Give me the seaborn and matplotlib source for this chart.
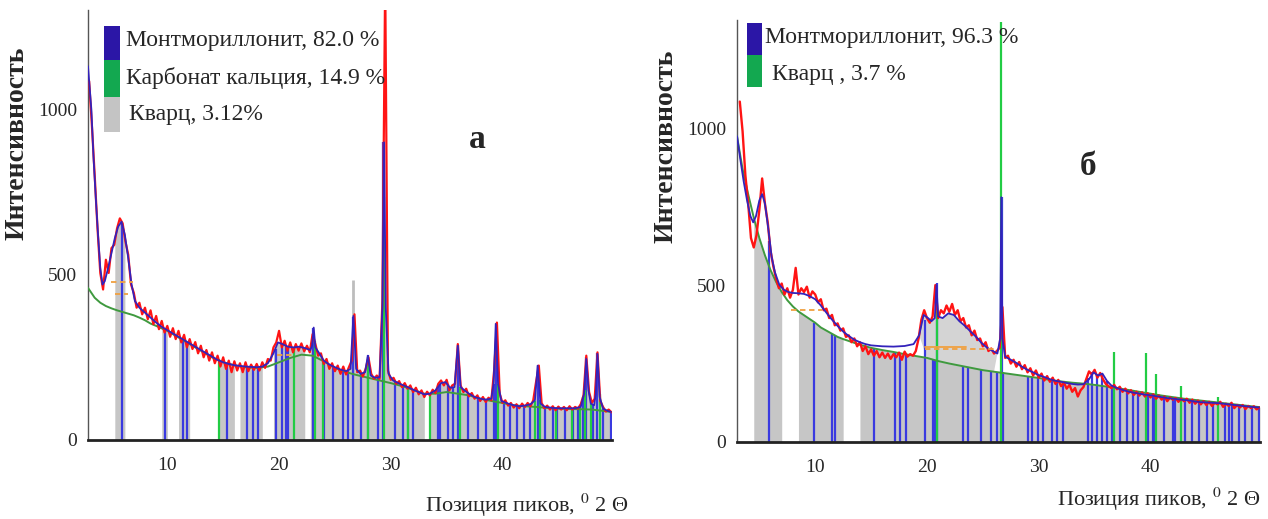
import numpy as np
import matplotlib
matplotlib.use("Agg")
import matplotlib.pyplot as plt
import seaborn as sns
from matplotlib.patches import Rectangle
from matplotlib.ticker import FixedLocator, MultipleLocator

# ---------------- Panel a data ----------------
# measured (red) pattern, 0.25 deg steps from 3.00 to 49.75
red_a = [
    1085, 950, 800, 640,   # 3
    505, 455, 545, 505,    # 4
    580, 590, 640, 670,    # 5
    655, 600, 560, 470,    # 6
    445, 400, 415, 380,    # 7
    400, 365, 392, 350,    # 8
    375, 335, 360, 325,    # 9
    345, 312, 338, 305,    # 10
    330, 295, 318, 280,    # 11
    305, 275, 296, 262,    # 12
    285, 250, 272, 240,    # 13
    265, 232, 255, 222,    # 14
    250, 215, 240, 205,    # 15
    238, 210, 232, 205,    # 16
    235, 208, 228, 212,    # 17
    230, 210, 235, 218,    # 18
    245, 240, 280, 295,    # 19
    330, 280, 300, 270,    # 20
    295, 265, 290, 270,    # 21
    292, 268, 285, 265,    # 22
    320, 290, 255, 262,    # 23
    230, 245, 215, 232,    # 24
    208, 225, 200, 222,    # 25
    198, 220, 240, 380,    # 26
    205, 210, 192, 215,    # 27
    250, 200, 185, 195,    # 28
    185, 420, 1400, 210,   # 29
    182, 188, 170, 178,    # 30
    160, 172, 155, 165,    # 31
    145, 158, 138, 150,    # 32
    130, 146, 135, 152,    # 33
    142, 170, 180, 165,    # 34
    182, 150, 165, 170,    # 35
    290, 165, 145, 155,    # 36
    132, 142, 125, 135,    # 37
    118, 130, 115, 128,    # 38
    120, 210, 355, 140,    # 39
    112, 120, 104, 112,    # 40
    98, 108, 96, 110,      # 41
    100, 112, 102, 120,    # 42
    175, 225, 112, 96,     # 43
    104, 92, 102, 90,      # 44
    101, 92, 100, 90,      # 45
    102, 92, 100, 95,      # 46
    108, 135, 255, 145,    # 47
    112, 125, 265, 118,    # 48
    100, 86, 92, 84,       # 49
]
red_a_x = np.arange(len(red_a)) * 0.25 + 3.0

# fitted profile (blue)
fit_a_x = [2.9, 3.2, 3.4, 3.6, 3.8, 4.0, 4.2, 4.4, 4.7, 5.0, 5.3, 5.6, 5.9, 6.2, 6.5,
           6.8, 7.1, 7.5, 8.0, 8.5, 9.0, 9.5, 10.0, 10.5, 11.0, 11.5, 12.0, 12.5,
           13.0, 13.5, 14.0, 14.5, 15.0, 15.5, 16.0, 16.5, 17.0, 17.5, 18.0, 18.5,
           19.0, 19.5, 19.9, 20.3, 20.8, 21.3, 21.8, 22.3, 22.8, 22.95, 23.1, 23.25,
           23.6, 24.0, 24.5, 25.0, 25.5, 26.0, 26.4, 26.65, 26.9, 27.3, 27.7, 27.95,
           28.2, 28.6, 29.0, 29.25, 29.4, 29.55, 29.8, 30.2, 30.8, 31.5, 32.0, 32.5,
           33.0, 33.5, 34.0, 34.5, 34.9, 35.3, 35.7, 36.0, 36.25, 36.6, 37.0, 37.5,
           38.0, 38.5, 39.0, 39.2, 39.4, 39.6, 39.9, 40.5, 41.0, 41.5, 42.0, 42.5,
           42.9, 43.15, 43.4, 43.8, 44.5, 45.0, 45.5, 46.0, 46.5, 47.0, 47.3, 47.5,
           47.7, 47.9, 48.2, 48.35, 48.5, 48.7, 49.0, 49.4, 49.7]
fit_a_y = [1130, 1000, 850, 730, 620, 520, 470, 480, 520, 565, 610, 645, 660, 620, 550,
           470, 420, 400, 385, 370, 355, 342, 332, 322, 312, 302, 292, 282,
           272, 262, 252, 242, 235, 230, 226, 224, 222, 221, 220, 222,
           232, 262, 295, 290, 282, 280, 282, 278, 272, 285, 340, 280,
           262, 240, 228, 220, 213, 208, 215, 375, 215, 200, 205, 255,
           195, 188, 190, 400, 900, 400, 200, 180, 170, 160, 152, 145,
           138, 140, 150, 172, 175, 158, 160, 285, 160, 150, 140, 130,
           125, 122, 125, 170, 350, 170, 118, 110, 105, 102, 104, 108,
           120, 225, 110, 100, 97, 96, 96, 96, 96, 100, 140, 245,
           150, 110, 105, 140, 260, 130, 95, 88, 85]

# background (green)
bg_a_x = [2.9, 3.5, 4.0, 4.5, 5.0, 5.5, 6.0, 6.5, 7.0, 7.5, 8.0, 8.5, 9.0, 10, 11, 12,
          13, 14, 15, 16, 17, 18, 19, 20, 21, 22, 23, 24, 25, 26, 27, 28, 29, 30, 31,
          32, 33, 34, 35, 36, 37, 38, 39, 40, 41, 42, 43, 44, 45, 46, 47, 48, 49, 49.7]
bg_a_y = [460, 430, 415, 405, 398, 392, 387, 382, 377, 370, 362, 352, 345, 330, 310, 290,
          270, 250, 235, 226, 220, 218, 222, 235, 248, 258, 255, 238, 218, 205, 196, 188,
          180, 172, 163, 152, 140, 140, 145, 140, 135, 125, 118, 112, 105, 102, 100, 97,
          95, 94, 93, 92, 88, 85]

# reference sticks
mont_a_pos = [5.9, 9.8, 11.4, 11.8, 15.3,
              17.1, 17.7, 18.1, 19.7, 20.3,
              20.6, 20.8, 23.05, 24.0, 24.8,
              25.7, 26.2, 26.65, 27.3, 27.95,
              28.9, 29.3, 30.4, 31.1, 31.5,
              32.0, 34.2, 34.4, 35.1, 35.6,
              36.0, 36.9, 37.8, 38.5, 39.2,
              39.45, 40.1, 40.7, 41.3, 41.9,
              42.5, 43.2, 43.8, 44.5, 44.9,
              45.6, 46.3, 46.8, 47.2, 47.5,
              48.1, 48.5, 49.0, 49.7]
mont_a_h = [655, 335, 303, 296, 231,
            222, 221, 220, 275, 290,
            286, 283, 340, 240, 224,
            211, 210, 372, 200, 257,
            190, 900, 178, 166, 160,
            152, 160, 168, 170, 160,
            287, 142, 127, 122, 170,
            353, 116, 108, 103, 104,
            108, 227, 100, 97, 96,
            96, 96, 98, 130, 250,
            106, 263, 95, 85]
calc_a_pos = [14.6, 21.3, 23.2, 23.9, 28.0, 29.4, 31.5, 33.5, 36.2,
              39.6, 42.9, 43.4, 44.8, 46.2, 46.9, 47.4, 47.9, 48.7]
calc_a_h = [245, 280, 300, 245, 250, 734, 160, 140, 160,
            170, 118, 120, 96, 96, 99, 150, 110, 140]
quartz_a_pos = [26.65]
quartz_a_h = [483]
quartz_a_bands = [(5.3, 6.2), (9.5, 10.0), (11.0, 12.0), (14.5, 16.0), (16.5, 18.5),
                  (19.5, 22.3), (22.8, 33.0), (33.5, 49.7)]
orange_a = [(5.0, 6.9, 478), (5.3, 6.5, 440), (19.8, 21.4, 258)]

# ---------------- Panel b data ----------------
red_b = [
    1085, 990, 850,        # 3.25 ..
    760, 650, 620, 660,    # 4
    740, 840, 760, 700,    # 5
    610, 560, 520, 490,    # 6
    505, 470, 490, 460,    # 7
    485, 555, 470, 490,    # 8
    478, 495, 460, 480,    # 9
    470, 445, 455, 420,    # 10
    425, 395, 405, 372,    # 11
    378, 355, 362, 335,    # 12
    340, 318, 330, 305,    # 13
    318, 290, 305, 280,    # 14
    295, 275, 290, 270,    # 15
    285, 268, 282, 265,    # 16
    280, 270, 285, 262,    # 17
    288, 272, 280, 275,    # 18
    290, 330, 390, 420,    # 19
    395, 380, 400, 500,    # 20
    395, 420, 410, 435,    # 21
    415, 440, 405, 420,    # 22
    385, 395, 365, 372,    # 23
    340, 355, 325, 330,    # 24
    305, 318, 290, 298,    # 25
    282, 290, 300, 430,    # 26
    268, 275, 250, 262,    # 27
    240, 255, 232, 245,    # 28
    222, 235, 212, 228,    # 29
    205, 218, 196, 210,    # 30
    192, 205, 185, 198,    # 31
    178, 190, 170, 182,    # 32
    160, 172, 145, 165,    # 33
    175, 200, 225, 215,    # 34
    230, 205, 220, 200,    # 35
    185, 178, 172, 182,    # 36
    168, 176, 160, 170,    # 37
    155, 165, 150, 160,    # 38
    148, 158, 145, 155,    # 39
    142, 152, 138, 148,    # 40
    135, 145, 130, 142,    # 41
    135, 140, 128, 138,    # 42
    130, 138, 125, 135,    # 43
    122, 132, 120, 130,    # 44
    118, 128, 115, 125,    # 45
    120, 128, 112, 122,    # 46
    115, 125, 108, 118,    # 47
    110, 118, 105, 115,    # 48
    108, 114, 104, 110,    # 49
]
red_b_x = np.arange(len(red_b)) * 0.25 + 3.25

fit_b_x = [3.0, 3.3, 3.6, 3.9, 4.2, 4.45, 4.7, 5.0, 5.25, 5.5, 5.8, 6.1, 6.4, 6.8, 7.2,
           7.6, 8.0, 8.5, 9.0, 9.5, 10.0, 10.5, 11.0, 11.5, 12.0, 12.5, 13.0, 13.5,
           14.0, 14.5, 15.0, 16.0, 17.0, 18.0, 18.8, 19.3, 19.7, 20.1, 20.4, 20.7,
           20.85, 21.0, 21.4, 21.9, 22.4, 22.9, 23.4, 23.9, 24.4, 24.9, 25.4, 25.9,
           26.3, 26.55, 26.65, 26.75, 27.0, 27.5, 28.0, 28.5, 29.0, 29.5, 30.0, 30.5,
           31.0, 31.5, 32.0, 32.5, 33.0, 33.5, 34.0, 34.5, 34.9, 35.3, 35.7, 36.1,
           36.5, 37.0, 37.5, 38.0, 38.5, 39.0, 39.5, 40.0, 40.5, 41.0, 41.5, 42.0,
           42.5, 43.0, 43.5, 44.0, 44.5, 45.0, 45.5, 46.0, 46.5, 47.0, 47.5, 48.0,
           48.5, 49.0, 49.7]
fit_b_y = [975, 900, 830, 770, 720, 700, 720, 770, 790, 760, 680, 590, 540, 500, 485,
           478, 475, 474, 472, 465, 455, 435, 412, 390, 370, 352, 338, 326,
           318, 312, 308, 305, 304, 306, 312, 340, 405, 395, 385, 395,
           500, 400, 395, 410, 405, 385, 370, 352, 335, 315, 300, 290,
           282, 330, 780, 330, 272, 262, 252, 240, 230, 222, 213, 207,
           200, 195, 192, 188, 185, 183, 184, 200, 222, 212, 218, 195,
           180, 172, 166, 161, 157, 154, 151, 149, 146, 143, 140, 138,
           136, 134, 132, 129, 127, 126, 125, 124, 122, 120, 118, 116,
           114, 112, 110]

bg_b_x = [3.0, 3.5, 4.0, 4.5, 5.0, 5.5, 6.0, 6.5, 7.0, 7.5, 8.0, 8.5, 9.0, 9.5, 10.0,
          10.5, 11.0, 11.5, 12.0, 12.5, 13.0, 13.5, 14.0, 15, 16, 17, 18, 19, 20, 21,
          22, 23, 24, 25, 26, 27, 28, 29, 30, 31, 32, 33, 34, 35, 36, 37, 38, 39, 40,
          41, 42, 43, 44, 45, 46, 47, 48, 49, 49.8]
bg_b_y = [975, 870, 790, 715, 650, 595, 548, 510, 478, 452, 432, 416, 404, 392, 380,
          365, 355, 345, 335, 328, 322, 316, 310, 300, 293, 287, 280, 274, 268, 258,
          250, 243, 236, 229, 224, 219, 214, 209, 204, 198, 193, 189, 186, 182, 177,
          172, 166, 160, 154, 148, 143, 138, 134, 130, 126, 122, 118, 114, 111]

mont_b_pos = [5.9, 9.9, 11.5, 11.8, 15.3,
              17.1, 17.6, 18.1, 19.85, 20.5,
              20.75, 20.9, 23.2, 23.7, 24.8,
              25.7, 26.3, 26.7, 26.8, 29.0,
              29.4, 29.9, 30.4, 31.2, 31.6,
              32.2, 34.4, 34.8, 35.2, 35.7,
              36.1, 36.6, 37.3, 37.9, 38.4,
              38.9, 39.8, 40.2, 40.4, 41.2,
              42.0, 42.2, 43.1, 43.7, 44.3,
              45.1, 45.6, 46.7, 47.0, 47.3,
              47.9, 48.5, 49.1, 49.7]
mont_b_h = [640, 380, 345, 340, 298,
            286, 283, 280, 390, 265,
            262, 506, 243, 238, 230,
            226, 222, 780, 222, 209,
            207, 204, 202, 197, 195,
            192, 205, 222, 215, 218,
            195, 180, 170, 166, 162,
            158, 150, 148, 147, 142,
            138, 137, 134, 131, 128,
            126, 125, 121, 120, 119,
            116, 114, 112, 110]
quartz_b_pos = [20.9, 26.65, 36.7, 39.6, 40.5, 42.7, 46.0]
quartz_b_h = [420, 1340, 287, 283, 217, 178, 143]
grey_b_bands = [(4.5, 7.0), (8.5, 12.5), (14.0, 49.8)]
hump_b_range = (19.3, 26.5)
orange_b = [(7.8, 10.6, 420), (19.8, 26.2, 296), (19.8, 23.5, 302)]

# ---------------- styling ----------------
sns.set_style("white")
plt.rcParams['font.family'] = ['Liberation Serif', 'DejaVu Serif']
plt.rcParams['mathtext.fontset'] = 'stix'

RED = "#ff1414"
FIT = "#3322bb"
BG = "#3f9a3f"
MONT = "#3a3ae0"
CALC = "#22cc44"
GREY = "#c6c6c6"
ORANGE = "#f0a040"
LEG_BLUE = "#2b16a6"
LEG_GREEN = "#13a850"
LEG_GREY = "#c4c4c4"

fig = plt.figure(figsize=(12.68, 5.19), dpi=100)
axA = fig.add_axes([88 / 1268, 79 / 519, 524 / 1268, 430 / 519])
axB = fig.add_axes([737 / 1268, 77 / 519, 523 / 1268, 422 / 519])


def fill_bands(ax, x, y, bands, color):
    x = np.asarray(x, dtype=float)
    y = np.asarray(y, dtype=float)
    for lo, hi in bands:
        m = (x >= lo - 1e-9) & (x <= hi + 1e-9)
        if m.sum() >= 2:
            ax.fill_between(x[m], 0, y[m], color=color, lw=0, zorder=1)


def style_axes(ax, xlim, ylim):
    ax.set_xlim(*xlim)
    ax.set_ylim(*ylim)
    for s in ("top", "right"):
        ax.spines[s].set_visible(False)
    ax.spines["bottom"].set_color("#222222")
    ax.spines["bottom"].set_linewidth(2.0)
    ax.spines["left"].set_color("#555555")
    ax.spines["left"].set_linewidth(1.0)
    ax.xaxis.set_major_locator(FixedLocator([10, 20, 30, 40]))
    ax.xaxis.set_minor_locator(MultipleLocator(1))
    ax.yaxis.set_major_locator(FixedLocator([0, 500, 1000]))
    ax.tick_params(axis="x", which="major", direction="out", length=6, width=1.2,
                   color="#222222", labelsize=14, pad=6)
    ax.tick_params(axis="x", which="minor", direction="out", length=3, width=1.0,
                   color="#222222")
    ax.tick_params(axis="y", which="major", direction="out", length=4, width=1.0,
                   color="#555555", labelsize=14, pad=4)
    ax.set_xlabel("")
    ax.set_ylabel("")


def draw_legend(ax, x0, w, boxes, texts):
    for (ytop, ybot, col) in boxes:
        ax.add_patch(Rectangle((x0, ybot), w, ytop - ybot, transform=ax.transAxes,
                               facecolor=col, edgecolor="none", clip_on=False, zorder=10))
    for (tx, ty, s) in texts:
        ax.text(tx, ty, s, transform=ax.transAxes, fontsize=17, va="center", ha="left",
                zorder=10)


XLABEL = "Позиция пиков, $^{0}$ 2 \u0398"

# ---------------- panel a ----------------
ax = axA
fill_bands(ax, fit_a_x, fit_a_y, quartz_a_bands, GREY)
ax.vlines(quartz_a_pos, 0, quartz_a_h, colors="#bdbdbd", linewidth=2.0, zorder=2)
ax.vlines(mont_a_pos, 0, mont_a_h, colors=MONT, linewidth=1.6, zorder=2)
ax.vlines(calc_a_pos, 0, calc_a_h, colors=CALC, linewidth=1.6, zorder=2)
sns.lineplot(x=bg_a_x, y=bg_a_y, ax=ax, color=BG, linewidth=1.4, estimator=None,
             legend=False, zorder=3)
sns.lineplot(x=red_a_x, y=red_a, ax=ax, color=RED, linewidth=1.6, estimator=None,
             legend=False, zorder=4)
sns.lineplot(x=fit_a_x, y=fit_a_y, ax=ax, color=FIT, linewidth=1.3, estimator=None,
             legend=False, zorder=5)
for (x0, x1, yv) in orange_a:
    ax.plot([x0, x1], [yv, yv], color=ORANGE, linewidth=1.3, linestyle=(0, (3, 2)),
            zorder=6)
style_axes(ax, (2.9, 49.8), (0, 1300))
draw_legend(ax, 0.0305, 0.0305,
            [(0.963, 0.884, LEG_BLUE), (0.884, 0.798, LEG_GREEN), (0.798, 0.716, LEG_GREY)],
            [(0.072, 0.928, "Монтмориллонит, 82.0 %"),
             (0.072, 0.843, "Карбонат кальция, 14.9 %"),
             (0.078, 0.758, "Кварц, 3.12%")])
ax.text(0.742, 0.70, "а", transform=ax.transAxes, fontsize=24, fontweight="bold",
        ha="center", va="center")
ax.text(-0.135, 0.69, "Интенсивность", transform=ax.transAxes, fontsize=20,
        fontweight="bold", rotation=90, ha="center", va="center")
ax.text(0.838, -0.152, XLABEL, transform=ax.transAxes,
        fontsize=16, ha="center", va="center")

# ---------------- panel b ----------------
ax = axB
gx = np.asarray(bg_b_x, dtype=float)
gy = np.asarray(bg_b_y, dtype=float)
fx = np.asarray(fit_b_x, dtype=float)
fy = np.asarray(fit_b_y, dtype=float)
fill_bands(ax, gx, gy, grey_b_bands, GREY)
hm_f = (fx >= hump_b_range[0]) & (fx <= hump_b_range[1])
hm_g = (gx >= hump_b_range[0]) & (gx <= hump_b_range[1])
ax.fill(np.concatenate([fx[hm_f], gx[hm_g][::-1]]),
        np.concatenate([np.minimum(fy[hm_f], 420), gy[hm_g][::-1]]),
        color="#d4d4d4", lw=0, zorder=1)
ax.vlines(mont_b_pos, 0, mont_b_h, colors=MONT, linewidth=1.6, zorder=2)
ax.vlines(quartz_b_pos, 0, quartz_b_h, colors=CALC, linewidth=1.6, zorder=2)
sns.lineplot(x=bg_b_x, y=bg_b_y, ax=ax, color=BG, linewidth=1.4, estimator=None,
             legend=False, zorder=3)
sns.lineplot(x=red_b_x, y=red_b, ax=ax, color=RED, linewidth=1.7, estimator=None,
             legend=False, zorder=4)
sns.lineplot(x=fit_b_x, y=fit_b_y, ax=ax, color=FIT, linewidth=1.3, estimator=None,
             legend=False, zorder=5)
for i, (x0, x1, yv) in enumerate(orange_b):
    ax.plot([x0, x1], [yv, yv], color=ORANGE, linewidth=1.3,
            linestyle=(0, (3, 2)) if i != 2 else "-", zorder=6)
style_axes(ax, (3.0, 49.8), (0, 1345))
draw_legend(ax, 0.019, 0.0287,
            [(0.993, 0.917, LEG_BLUE), (0.917, 0.841, LEG_GREEN)],
            [(0.053, 0.958, "Монтмориллонит, 96.3 %"),
             (0.067, 0.872, "Кварц , 3.7 %")])
ax.text(0.671, 0.652, "б", transform=ax.transAxes, fontsize=24, fontweight="bold",
        ha="center", va="center")
ax.text(-0.136, 0.70, "Интенсивность", transform=ax.transAxes, fontsize=20,
        fontweight="bold", rotation=90, ha="center", va="center")
ax.text(0.807, -0.137, XLABEL, transform=ax.transAxes,
        fontsize=16, ha="center", va="center")

fig.savefig("out.png", dpi=100)
